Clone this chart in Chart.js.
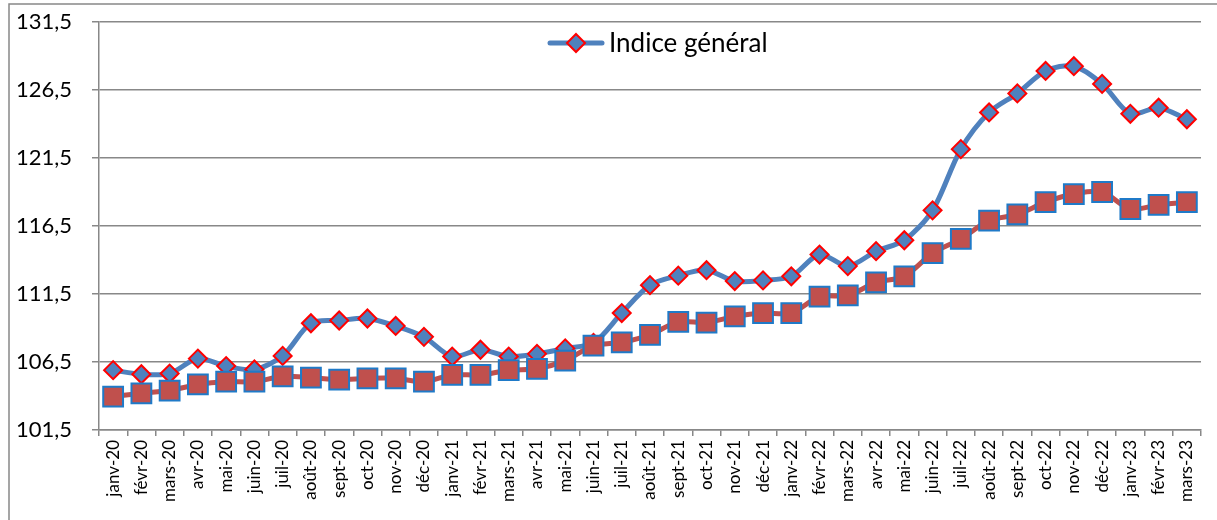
<!DOCTYPE html>
<html>
<head>
<meta charset="utf-8">
<script src="https://cdn.jsdelivr.net/npm/chart.js@4/dist/chart.umd.min.js"></script>
<style>
  html, body { margin: 0; padding: 0; background: #fff; }
  #wrap { position: relative; width: 1217px; height: 520px; }
</style>
</head>
<body>
<div id="wrap"><canvas id="indiceChart" width="1217" height="520"></canvas></div>
<script>
// Mois (axe des abscisses)
const mois = [
    'janv-20', 'févr-20', 'mars-20', 'avr-20', 'mai-20', 'juin-20', 'juil-20', 'août-20', 'sept-20', 'oct-20', 'nov-20', 'déc-20',
    'janv-21', 'févr-21', 'mars-21', 'avr-21', 'mai-21', 'juin-21', 'juil-21', 'août-21', 'sept-21', 'oct-21', 'nov-21', 'déc-21',
    'janv-22', 'févr-22', 'mars-22', 'avr-22', 'mai-22', 'juin-22', 'juil-22', 'août-22', 'sept-22', 'oct-22', 'nov-22', 'déc-22',
    'janv-23', 'févr-23', 'mars-23'
];

// Indice général (losanges)
const indiceGeneral = [
    105.9, 105.6, 105.65, 106.75, 106.2, 105.95, 106.95, 109.35, 109.55, 109.7, 109.15, 108.35,
    106.9, 107.4, 106.9, 107.1, 107.5, 107.9, 110.1, 112.15, 112.85, 113.25, 112.45, 112.5,
    112.8, 114.4, 113.55, 114.65, 115.45, 117.65, 122.15, 124.85, 126.25, 127.9, 128.25, 126.95,
    124.75, 125.2, 124.35
];

// Deuxième série (carrés)
const indiceSerie2 = [
    103.95, 104.2, 104.4, 104.85, 105.05, 105.05, 105.45, 105.35, 105.2, 105.3, 105.3, 105.05,
    105.55, 105.55, 105.9, 106.0, 106.6, 107.7, 107.95, 108.5, 109.45, 109.4, 109.85, 110.1,
    110.1, 111.3, 111.4, 112.35, 112.8, 114.5, 115.55, 116.9, 117.35, 118.25, 118.85, 119.0,
    117.75, 118.05, 118.25
];

// Graduations de l'axe vertical
const yTicks = [101.5, 106.5, 111.5, 116.5, 121.5, 126.5, 131.5];

const BLEU = '#4F81BD';
const ROUGE = '#C0504D';
const GRIS = '#888888';

// Cadre gris + légende dessinée dans la zone du graphique
const decor = {
    id: 'decor',
    beforeDraw(chart) {
        const ctx = chart.ctx;
        ctx.save();
        ctx.strokeStyle = GRIS;
        ctx.lineWidth = 1.5;
        ctx.strokeRect(9, 4, 1400, 700);
        ctx.restore();
    },
    afterDraw(chart) {
        const ctx = chart.ctx;
        const ds = chart.data.datasets[0];
        const cx = 576, cy = 43;
        ctx.save();
        ctx.strokeStyle = BLEU; ctx.lineWidth = 5; ctx.lineCap = 'round';
        ctx.beginPath(); ctx.moveTo(cx - 26, cy); ctx.lineTo(cx + 26, cy); ctx.stroke();
        ctx.beginPath();
        ctx.moveTo(cx, cy - 9); ctx.lineTo(cx + 9, cy); ctx.lineTo(cx, cy + 9); ctx.lineTo(cx - 9, cy); ctx.closePath();
        ctx.fillStyle = BLEU; ctx.fill();
        ctx.strokeStyle = '#FF0000'; ctx.lineWidth = 2; ctx.stroke();
        ctx.fillStyle = '#000';
        ctx.font = '26px Lato, "Open Sans", sans-serif';
        ctx.textBaseline = 'middle';
        ctx.fillText(ds.label, 609, cy + 1);
        ctx.restore();
    }
};

Chart.defaults.font.family = 'Lato, "Open Sans", sans-serif';
Chart.defaults.color = '#000';

const ctx = document.getElementById('indiceChart').getContext('2d');
new Chart(ctx, {
    type: 'line',
    data: {
        labels: mois,
        datasets: [
            {
                label: 'Indice général',
                data: indiceGeneral,
                borderColor: BLEU,
                borderWidth: 5,
                tension: 0.3,
                pointStyle: 'rectRot',
                pointRadius: 9,
                pointBackgroundColor: BLEU,
                pointBorderColor: '#FF0000',
                pointBorderWidth: 2,
                order: 2
            },
            {
                label: 'Série 2',
                data: indiceSerie2,
                borderColor: ROUGE,
                borderWidth: 5,
                tension: 0.3,
                pointStyle: 'rect',
                pointRadius: 14,
                pointBackgroundColor: ROUGE,
                pointBorderColor: '#1F7AC8',
                pointBorderWidth: 2,
                order: 1
            }
        ]
    },
    options: {
        responsive: false,
        animation: false,
        layout: { padding: { top: 22, left: 0, right: 0, bottom: 0 } },
        plugins: {
            tooltip: { enabled: false },
            legend: { display: false }
        },
        scales: {
            x: {
                offset: true,
                afterFit: scale => { scale.height = 90; },
                grid: {
                    offset: true,
                    drawOnChartArea: false,
                    color: GRIS,
                    lineWidth: 1.5,
                    tickLength: 6
                },
                border: { color: GRIS, width: 1.5 },
                ticks: {
                    autoSkip: false,
                    maxRotation: 90,
                    minRotation: 90,
                    padding: 4,
                    font: { size: 17 }
                }
            },
            y: {
                min: 101.5,
                max: 131.5,
                afterFit: scale => { scale.width = 99; scale.paddingTop = 0; scale.paddingBottom = 0; },
                afterBuildTicks: scale => { scale.ticks = yTicks.map(v => ({ value: v })); },
                grid: {
                    color: GRIS,
                    lineWidth: 1.5,
                    tickLength: 7
                },
                border: { color: GRIS, width: 1.5 },
                ticks: {
                    padding: 20,
                    font: { size: 22 },
                    callback: v => v.toFixed(1).replace('.', ',')
                }
            }
        }
    },
    plugins: [decor]
});
</script>
</body>
</html>
